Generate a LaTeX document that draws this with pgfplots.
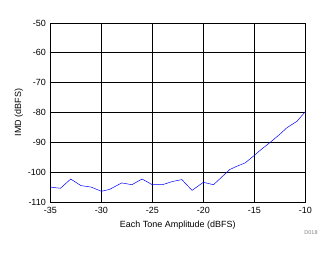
\documentclass[border=0pt]{standalone}
\usepackage{pgfplots}
\pgfplotsset{compat=1.18}
\usepackage{fontspec}
\setmainfont{Liberation Sans}
\begin{document}
\begin{tikzpicture}[x=1bp,y=1bp]
\useasboundingbox (-50.3bp,-52bp) rectangle (282.7bp,202bp);
\begin{axis}[
  at={(0,0)}, anchor=south west,
  scale only axis, width=255bp, height=179bp,
  xmin=-35, xmax=-10, ymin=-110, ymax=-50,
  xtick={-35,-30,...,-10}, ytick={-110,-100,...,-50},
  grid=major,
  grid style={black, line width=0.8pt},
  axis line style={black, line width=0.8pt},
  major tick length=0pt,
  tick label style={font=\fontsize{9}{10}\selectfont},
  label style={font=\fontsize{9}{10}\selectfont},
  /pgf/number format/assume math mode=true,
  xlabel={Each Tone Amplitude (dBFS)},
  ylabel={IMD (dBFS)},
  xlabel style={yshift=0pt},
  ylabel style={yshift=-2pt},
  yticklabel style={xshift=-1pt},
  xticklabel style={yshift=-2pt},
]
\addplot[blue, line width=0.5pt] coordinates {
(-35,-105.0) (-34,-105.4) (-33,-102.3) (-32,-104.5) (-31,-105.0)
(-30,-106.4) (-29.2,-105.8) (-28,-103.6) (-27,-104.2) (-26,-102.3)
(-25,-104.2) (-24,-104.2) (-23,-103.1) (-22.1,-102.5) (-21.8,-103.6)
(-21.1,-106.1) (-20,-103.4) (-19,-104.2) (-18.4,-102.3) (-17.4,-99.1)
(-16.7,-98.0) (-15.9,-96.9) (-15,-94.4) (-14.4,-92.6) (-13.4,-89.9)
(-12.5,-87.3) (-11.8,-85.1) (-10.8,-82.9) (-10,-79.7)
};
\end{axis}
\node[font=\fontsize{5.5}{6}\selectfont, text=gray] at (260.7bp,-31bp) {D018};
\end{tikzpicture}
\end{document}
